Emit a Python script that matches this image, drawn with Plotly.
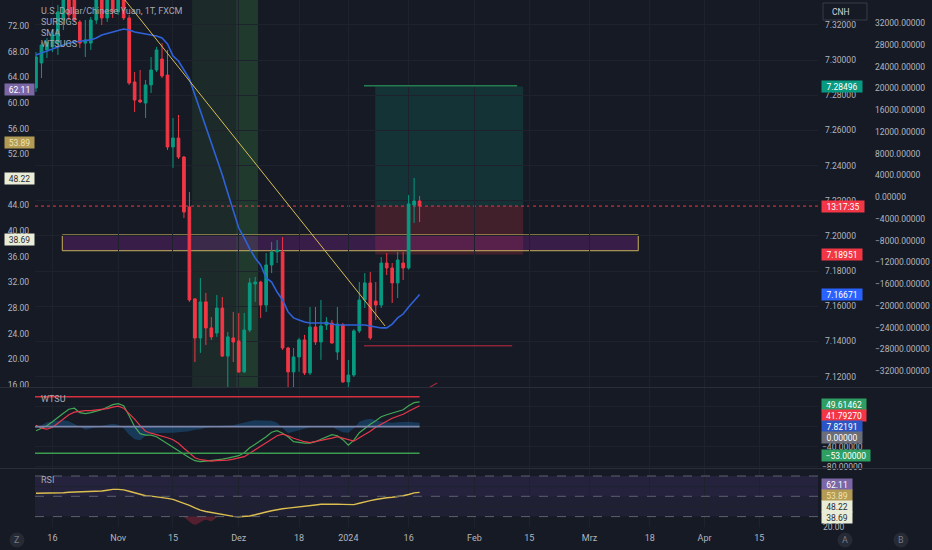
import pandas as pd
import plotly.graph_objects as go

## USD/CNH daily candles (FXCM), first bar = 2023-10-11
first_day = "2023-10-11"
last_axis_day = "2024-04-30"
missing_days = ["2023-12-25"]

opens = [7.2842, 7.2984, 7.3058, 7.3075, 7.3097, 7.3228, 7.3342, 7.3370, 7.3217, 7.3097,
         7.3097, 7.3228, 7.3353, 7.3240, 7.3342, 7.3274, 7.3359, 7.3240, 7.2876, 7.2773,
         7.2756, 7.2859, 7.2944, 7.3006, 7.2915, 7.2506, 7.2557, 7.2449, 7.2165, 7.1642,
         7.1420, 7.1625, 7.1477, 7.1448, 7.1590, 7.1317, 7.1420, 7.1403, 7.1227, 7.1465,
         7.1727, 7.1738, 7.1607, 7.1835, 7.1909, 7.1909, 7.1363, 7.1227, 7.1312, 7.1409,
         7.1221, 7.1482, 7.1397, 7.1494, 7.1505, 7.1340, 7.1494, 7.1170, 7.1209, 7.1460,
         7.1636, 7.1733, 7.1630, 7.1607, 7.1846, 7.1818, 7.1733, 7.1846, 7.1818, 7.2176,
         7.2199]
highs = [7.3046, 7.3103, 7.3126, 7.3171, 7.3314, 7.3387, 7.3399, 7.3399, 7.3228, 7.3228,
         7.3245, 7.3387, 7.3387, 7.3370, 7.3387, 7.3399, 7.3399, 7.3257, 7.2933, 7.2944,
         7.2887, 7.3018, 7.3075, 7.3097, 7.3058, 7.2671, 7.2688, 7.2455, 7.2250, 7.1647,
         7.1761, 7.1676, 7.1539, 7.1664, 7.1653, 7.1454, 7.1568, 7.1562, 7.1562, 7.1761,
         7.1767, 7.1745, 7.1903, 7.1966, 7.1977, 7.1994, 7.1369, 7.1363, 7.1420, 7.1437,
         7.1596, 7.1596, 7.1636, 7.1539, 7.1522, 7.1596, 7.1505, 7.1295, 7.1470, 7.1738,
         7.1789, 7.1795, 7.1738, 7.1880, 7.1903, 7.1846, 7.1909, 7.1909, 7.2233, 7.2330,
         7.2227]
lows = [7.2819, 7.2898, 7.3012, 7.3046, 7.3029, 7.3171, 7.3228, 7.3217, 7.3069, 7.3018,
        7.3058, 7.3206, 7.3200, 7.3217, 7.3240, 7.3257, 7.3228, 7.2859, 7.2705, 7.2756,
        7.2671, 7.2813, 7.2933, 7.2898, 7.2489, 7.2387, 7.2438, 7.2102, 7.1625, 7.1283,
        7.1335, 7.1380, 7.1409, 7.1426, 7.1312, 7.1135, 7.1283, 7.1221, 7.1221, 7.1454,
        7.1625, 7.1534, 7.1568, 7.1789, 7.1846, 7.1352, 7.1135, 7.1138, 7.1227, 7.1209,
        7.1209, 7.1380, 7.1295, 7.1465, 7.1388, 7.1295, 7.1164, 7.1141, 7.1198, 7.1448,
        7.1590, 7.1409, 7.1522, 7.1590, 7.1778, 7.1619, 7.1647, 7.1750, 7.1809, 7.2074,
        7.2079]
closes = [7.3018, 7.3086, 7.3103, 7.3143, 7.3274, 7.3342, 7.3257, 7.3228, 7.3097, 7.3115,
          7.3228, 7.3353, 7.3240, 7.3342, 7.3274, 7.3359, 7.3240, 7.2870, 7.2773, 7.2762,
          7.2859, 7.2944, 7.3058, 7.2910, 7.2506, 7.2557, 7.2449, 7.2136, 7.1636, 7.1420,
          7.1625, 7.1477, 7.1426, 7.1590, 7.1317, 7.1426, 7.1397, 7.1227, 7.1465, 7.1733,
          7.1738, 7.1607, 7.1835, 7.1909, 7.1920, 7.1363, 7.1227, 7.1312, 7.1409, 7.1221,
          7.1482, 7.1397, 7.1488, 7.1511, 7.1391, 7.1499, 7.1170, 7.1209, 7.1460, 7.1636,
          7.1733, 7.1420, 7.1607, 7.1846, 7.1818, 7.1733, 7.1863, 7.1818, 7.2182, 7.2199,
          7.2170]

sma = [7.3029, 7.3041, 7.3052, 7.3063, 7.3075, 7.3086, 7.3097, 7.3103, 7.3109, 7.3112,
       7.3115, 7.3126, 7.3143, 7.3151, 7.3160, 7.3169, 7.3177, 7.3171, 7.3160, 7.3154,
       7.3149, 7.3143, 7.3137, 7.3126, 7.3092, 7.3024, 7.2995, 7.2944, 7.2893, 7.2802,
       7.2705, 7.2620, 7.2529, 7.2443, 7.2347, 7.2244, 7.2148, 7.2045, 7.1989, 7.1926,
       7.1875, 7.1835, 7.1761, 7.1738, 7.1681, 7.1636, 7.1568, 7.1534, 7.1522, 7.1511,
       7.1505, 7.1505, 7.1505, 7.1505, 7.1499, 7.1494, 7.1494, 7.1494, 7.1494, 7.1494,
       7.1494, 7.1488, 7.1482, 7.1477, 7.1477, 7.1499, 7.1534, 7.1556, 7.1596, 7.1630,
       7.1667]

## WTSU pane
wt1 = [-8, -3, 2, 10, 19, 27, 35, 37, 28, 26, 28, 31, 34, 39, 44, 46, 42, 22, 0, -14,
       -17, -17, -20, -27, -34, -42, -49, -55, -62, -68, -70, -69, -68, -67, -65, -63, -61, -58, -52, -42,
       -35, -28, -20, -11, -8, -13, -20, -30, -32, -33, -33, -30, -25, -20, -16, -18, -26, -37, -27, -12,
       -3, 5, 12, 20, 24, 27, 30, 34, 42, 48, 49.6]
wt2 = [3, -3, -5, -1, 7, 15, 24, 29, 31, 32, 32, 33, 34, 36, 39, 41, 37, 27, 15, 2,
       -9, -13, -16, -18, -22, -26, -33, -43, -53, -62, -66, -68, -69, -68, -68, -67, -65, -63, -60, -53,
       -46, -39, -33, -26, -18, -15, -18, -23, -27, -30, -32, -30, -28, -26, -23, -20, -23, -27, -29, -22,
       -16, -9, -1, 5, 10, 17, 21, 25, 31, 37, 41.8]
wt_diff = [-3, 3, 9, 11, 12, 13, 11, 6, 0, -6, -4, -1, 2, 4, 6, 4, -3, -16, -25, -27,
           -18, -13, -13, -13, -12, -12, -11, -10, -9, -6, -5, -2, 0, 1, 2, 3, 3, 6, 9, 11,
           13, 13, 13, 12, 8, -3, -13, -10, -7, -4, -1, 0, 0, 0, 0, -6, -11, -12, -3, 10,
           14, 16, 13, 10, 9, 8, 9, 10, 10, 9, 7.8]
wt_upper, wt_lower = 60, -53

## RSI pane
rsi = [53, 53, 53, 53, 53, 53.5, 54, 54.2, 54.3, 54.4, 54.5, 54.5, 55.2, 56, 56.8, 56.8, 56.3, 55, 53.5, 52,
       50.6, 50.2, 49.7, 49, 48, 47, 45.2, 43.3, 41, 38.5, 36.3, 35, 34, 33.2, 32.2, 31.2, 30.2, 29.8, 30, 30.6,
       31.8, 33.4, 34.5, 35.8, 37, 37.7, 38.3, 38.8, 39.3, 39.8, 40.4, 41.5, 42.2, 42.4, 42.4, 42.2, 42, 41.6, 41.8, 43.2,
       44.7, 45.7, 46.8, 48, 48.6, 49.1, 49.6, 50.6, 51.8, 53.4, 53.9]
rsi_dip_bars = [27, 28, 29, 30, 31, 32, 33]
rsi_dip = [29.5, 25, 22, 24.5, 27, 25.5, 29.5]
rsi_levels = [70, 50, 30]

## drawings on the price pane (bar index, price)
support_zone = dict(x0=4.8, x1=109.9, low=7.1916, high=7.2006)
trend_line = dict(x0=15, y0=7.3390, x1=63.7, y1=7.1488)
green_bands = [(28.5, 40.5), (36.5, 40.5)]
long_pos = dict(x0=61.9, x1=88.9, entry=7.2172, target=7.28496, stop=7.18951)
target_line = dict(x0=59.85, x1=87.8, y=7.2855)
low_line = dict(x0=59.85, x1=86.9, y=7.1376)
stray_line = dict(x0=71.9, y0=7.1141, x1=73.2, y1=7.1164)

tick_dates = ["2023-10-16", "2023-11-01", "2023-11-15", "2023-12-01", "2023-12-18", "2024-01-01",
              "2024-01-16", "2024-02-01", "2024-02-15", "2024-03-01", "2024-03-18", "2024-04-01", "2024-04-15"]
tick_text = ["16", "Nov", "15", "Dez", "18", "2024", "16", "Feb", "15", "Mrz", "18", "Apr", "15"]
price_ticks = [7.12, 7.14, 7.16, 7.18, 7.20, 7.22, 7.24, 7.26, 7.28, 7.30, 7.32]
left_ticks = [16, 20, 24, 28, 32, 36, 40, 44, 48, 52, 56, 60, 64, 68, 72, 76]
osc_ticks = [-32000, -28000, -24000, -20000, -16000, -12000, -8000, -4000, 0,
             4000, 8000, 12000, 16000, 20000, 24000, 28000, 32000, 36000]
wt_ticks = [-80, -40, 0, 40]
rsi_ticks = [20, 40, 60]
left_tags = [("62.11", 62.11, "#7b66a6", "#ffffff"), ("53.89", 53.89, "#b39b55", "#efe3ae"),
             ("48.22", 48.22, "#e9ecd6", "#2a2e39"), ("38.69", 38.69, "#e9ecd6", "#2a2e39")]

## session calendar -> bar index
sessions = pd.bdate_range(first_day, last_axis_day)
sessions = sessions[~sessions.isin(pd.to_datetime(missing_days))]
pos = {d.strftime("%Y-%m-%d"): i for i, d in enumerate(sessions)}
tick_pos = [pos[d] for d in tick_dates]
bars = list(range(len(closes)))

BG = "#161a25"
GRID = "#1e222d"
TXT = "#b2b5be"
LEG = "#a5a8b1"
UP, DOWN = "#089981", "#f23645"

## pixel helpers for the layout (plot area 35..932 x 0..527)
L, PW, PH = 35, 897, 527
def px(x):
    return (x - L) / PW
def py(y):
    return (PH - y) / PH

# tick labels hidden behind the value tags, like on the chart
def fmt(vals, decimals, hidden=()):
    return ["" if v in hidden else f"{v:.{decimals}f}".replace("-", "\u2212") for v in vals]

fig = go.Figure()
fig.add_trace(go.Candlestick(x=bars, open=opens, high=highs, low=lows, close=closes,
                             increasing=dict(line=dict(color=UP, width=1), fillcolor=UP),
                             decreasing=dict(line=dict(color=DOWN, width=1), fillcolor=DOWN),
                             whiskerwidth=0, hoverinfo="skip", showlegend=False))
fig.add_trace(go.Scatter(x=bars, y=sma, mode="lines", line=dict(color="#2f62d8", width=1.6),
                         hoverinfo="skip"))

fig.add_trace(go.Scatter(x=bars, y=wt_diff, yaxis="y2", mode="lines", fill="tozeroy",
                         fillcolor="rgba(33,150,243,0.25)", line=dict(width=0), hoverinfo="skip"))
fig.add_trace(go.Scatter(x=bars, y=wt1, yaxis="y2", mode="lines", line=dict(color="#43a856", width=1.2),
                         hoverinfo="skip"))
fig.add_trace(go.Scatter(x=bars, y=wt2, yaxis="y2", mode="lines", line=dict(color="#e8374a", width=1.2),
                         hoverinfo="skip"))

fig.add_trace(go.Scatter(x=rsi_dip_bars, y=[rsi_levels[2]] * len(rsi_dip), yaxis="y3", mode="lines",
                         line=dict(width=0), hoverinfo="skip"))
fig.add_trace(go.Scatter(x=rsi_dip_bars, y=rsi_dip, yaxis="y3", mode="lines", fill="tonexty",
                         fillcolor="rgba(178,40,60,0.40)", line=dict(width=0, shape="spline"), hoverinfo="skip"))
fig.add_trace(go.Scatter(x=bars, y=rsi, yaxis="y3", mode="lines", line=dict(color="#dcbf4f", width=1.4),
                         hoverinfo="skip"))

# empty traces so the extra scales get drawn
fig.add_trace(go.Scatter(x=[None], y=[None], yaxis="y4", hoverinfo="skip"))
fig.add_trace(go.Scatter(x=[None], y=[None], yaxis="y5", hoverinfo="skip"))

shapes = []
for b0, b1 in green_bands:
    shapes.append(dict(type="rect", xref="x", yref="y domain", x0=b0, x1=b1, y0=0, y1=1,
                       fillcolor="rgba(76,175,80,0.12)", line=dict(width=0), layer="below"))
shapes.append(dict(type="rect", xref="x", yref="y", x0=long_pos["x0"], x1=long_pos["x1"],
                   y0=long_pos["entry"], y1=long_pos["target"], fillcolor="rgba(8,153,129,0.2)",
                   line=dict(width=0), layer="below"))
shapes.append(dict(type="rect", xref="x", yref="y", x0=long_pos["x0"], x1=long_pos["x1"],
                   y0=long_pos["stop"], y1=long_pos["entry"], fillcolor="rgba(242,54,69,0.2)",
                   line=dict(width=0), layer="below"))
shapes.append(dict(type="rect", xref="x", yref="y", x0=support_zone["x0"], x1=support_zone["x1"],
                   y0=support_zone["low"], y1=support_zone["high"], fillcolor="rgba(156,39,176,0.25)",
                   line=dict(color="#c8b25a", width=1), layer="below"))
shapes.append(dict(type="line", xref="x", yref="y", x0=target_line["x0"], x1=target_line["x1"],
                   y0=target_line["y"], y1=target_line["y"], line=dict(color="#23804f", width=1.5)))
shapes.append(dict(type="line", xref="x", yref="y", x0=low_line["x0"], x1=low_line["x1"],
                   y0=low_line["y"], y1=low_line["y"], line=dict(color="#8a2436", width=1.5)))
shapes.append(dict(type="line", xref="x domain", yref="y", x0=0, x1=1, y0=closes[-1], y1=closes[-1],
                   line=dict(color=DOWN, width=1, dash="dot"), layer="below"))
shapes.append(dict(type="line", xref="x", yref="y", x0=trend_line["x0"], y0=trend_line["y0"],
                   x1=trend_line["x1"], y1=trend_line["y1"], line=dict(color="#d7bd56", width=1)))
shapes.append(dict(type="line", xref="x", yref="y", x0=stray_line["x0"], y0=stray_line["y0"],
                   x1=stray_line["x1"], y1=stray_line["y1"], line=dict(color="#a02a3e", width=1.2)))

# WTSU levels
shapes.append(dict(type="line", xref="x", yref="y2", x0=-0.18, x1=bars[-1], y0=wt_upper, y1=wt_upper,
                   line=dict(color="#d63040", width=1.5)))
shapes.append(dict(type="line", xref="x", yref="y2", x0=-0.18, x1=bars[-1], y0=wt_lower, y1=wt_lower,
                   line=dict(color="#3b9b4f", width=1.5)))
shapes.append(dict(type="line", xref="x", yref="y2", x0=-0.18, x1=bars[-1], y0=0, y1=0,
                   line=dict(color="#7d87ad", width=1.8)))

# RSI band
shapes.append(dict(type="rect", xref="x domain", yref="y3", x0=0, x1=1, y0=rsi_levels[2], y1=rsi_levels[0],
                   fillcolor="rgba(126,87,194,0.10)", line=dict(width=0), layer="below"))
shapes.append(dict(type="rect", xref="x domain", yref="y3", x0=0, x1=1, y0=rsi_levels[1], y1=rsi_levels[0],
                   fillcolor="rgba(126,87,194,0.05)", line=dict(width=0), layer="below"))
for lv in rsi_levels:
    shapes.append(dict(type="line", xref="x domain", yref="y3", x0=0, x1=1, y0=lv, y1=lv,
                       line=dict(color="#5d606b", width=1, dash="dash")))

# pane separators
for sy in (387.5, 468.5):
    shapes.append(dict(type="line", xref="paper", yref="paper", x0=px(0), x1=1, y0=py(sy), y1=py(sy),
                       line=dict(color="#2a2e39", width=1)))

# CNH box and round buttons
shapes.append(dict(type="rect", xref="paper", yref="paper", x0=px(823), x1=px(867), y0=py(20), y1=py(3),
                   line=dict(color="#363a45", width=1), fillcolor=BG))
for cx in (17, 845, 901):
    shapes.append(dict(type="circle", xref="paper", yref="paper", x0=px(cx - 7.5), x1=px(cx + 7.5),
                       y0=py(547.5), y1=py(532.5), fillcolor="#262a35", line=dict(width=0)))

fig.update_layout(shapes=shapes)

def note(text, x, y, color=TXT, size=8.5, xanchor="left"):
    fig.add_annotation(text=text, xref="paper", yref="paper", x=px(x), y=py(y), xanchor=xanchor,
                       yanchor="middle", showarrow=False, font=dict(color=color, size=size))

def tag(text, y, bg, fg="#ffffff", width=38, x=821, yref="paper", xanchor="left"):
    fig.add_annotation(text=text, xref="paper", x=px(x), xanchor=xanchor,
                       yref=yref, y=py(y) if yref == "paper" else y, yanchor="middle",
                       showarrow=False, bgcolor=bg, font=dict(color=fg, size=8.5),
                       borderpad=1, height=9, width=width)

for k, t in enumerate(["U.S. Dollar/Chinese Yuan, 1T, FXCM", "SURSIGS", "SMA", "WTSUGS"]):
    note(t, 39, 11 + 11 * k, color=LEG, size=9)
note("WTSU", 39, 399, color=LEG, size=9)
note("RSI", 39, 480, color=LEG, size=9)
note("CNH", 830, 11.5, color="#d1d4dc")
note("Z", 17, 540, color="#787b86", size=9, xanchor="center")
note("A", 845, 540, color="#787b86", size=9, xanchor="center")
note("B", 901, 540, color="#787b86", size=9, xanchor="center")

# price scale tags
tag("7.28496", long_pos["target"], UP, yref="y")
tag("13:17:35", closes[-1], DOWN, width=40, yref="y")
tag("7.18951", long_pos["stop"], DOWN, yref="y")
tag("7.16671", 7.16671, "#2962ff", yref="y")
# WTSU tags (stacked as on the chart)
tag("49.61462", 404, "#2f9e62", width=42)
tag("41.79270", 415, DOWN, width=42)
tag("7.82191", 426, "#2b55c4", width=38)
tag("0.00000", 437, "#6b6e78", width=38)
tag("\u221253.00000", 455, "#2f9e62", width=46)
# RSI tags
tag("62.11", 484, "#7b66a6", width=28)
tag("53.89", 495, "#b39b55", fg="#efe3ae", width=28)
tag("48.22", 506, "#e9ecd6", fg="#2a2e39", width=28)
tag("38.69", 517, "#e9ecd6", fg="#2a2e39", width=28)
# left scale tags
for text, val, bg, fg in left_tags:
    tag(text, val, bg, fg=fg, width=27, x=35, yref="y4", xanchor="right")

axis_common = dict(zeroline=False, showline=False, ticks="", fixedrange=True)
fig.update_layout(
    width=932, height=550, margin=dict(l=35, r=0, t=0, b=23),
    paper_bgcolor=BG, plot_bgcolor=BG, showlegend=False, hovermode=False,
    font=dict(family="Roboto", size=8.5, color=TXT),
    xaxis=dict(domain=[0, px(818)], range=[-0.18, 142.7], anchor="y3", tickmode="array",
               tickvals=tick_pos, ticktext=tick_text, showgrid=True, gridcolor=GRID,
               rangeslider=dict(visible=False), tickfont=dict(size=9), ticklabelstandoff=4, **axis_common),
    yaxis=dict(domain=[py(387), 1], range=[7.1141, 7.3342], side="right", anchor="x",
               tickmode="array", tickvals=price_ticks, tickformat=".5f", showgrid=True, gridcolor=GRID,
               ticklabelstandoff=6, **axis_common),
    yaxis2=dict(domain=[py(468), py(388)], range=[-82.6, 77.4], side="right", anchor="x",
                tickmode="array", tickvals=wt_ticks, ticktext=fmt(wt_ticks, 5, hidden=(0, 40)),
                showgrid=True, gridcolor=GRID, ticklabelstandoff=3, **axis_common),
    yaxis3=dict(domain=[0, py(469)], range=[19.75, 76.9], side="right", anchor="x",
                tickmode="array", tickvals=rsi_ticks, ticktext=fmt(rsi_ticks, 2, hidden=(40, 60)),
                showgrid=True, gridcolor=GRID, ticklabelstandoff=4, **axis_common),
    yaxis4=dict(overlaying="y", side="left", anchor="x", range=[15.68, 76.06], tickmode="array",
                tickvals=left_ticks, ticktext=fmt(left_ticks, 2, hidden=(48,)), showgrid=False,
                ticklabelstandoff=5, **axis_common),
    yaxis5=dict(overlaying="y", side="right", anchor="free", position=px(872), range=[-34947, 36289],
                tickmode="array", tickvals=osc_ticks, tickformat=".5f", showgrid=False,
                ticklabelstandoff=2, **axis_common),
)

# the page body has a default 8px margin; drop it so the chart fills the window
fig.write_html("out.html", config={"displayModeBar": False},
               post_script="document.body.style.margin='0';")
